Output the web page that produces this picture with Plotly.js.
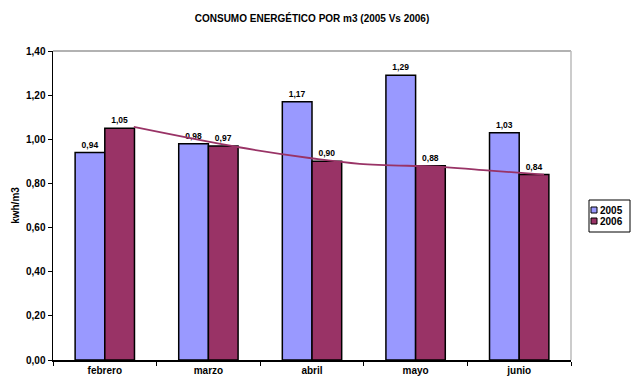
<!DOCTYPE html>
<html>
<head>
<meta charset="utf-8">
<script src="https://cdn.plot.ly/plotly-3.0.1.min.js"></script>
<style>
  html, body { margin: 0; padding: 0; background: #fff; }
  #chart { width: 631px; height: 385px; }
</style>
</head>
<body>
<div id="chart"></div>
<script>
// Monthly energy use per m3, two years side by side
const months = ['febrero', 'marzo', 'abril', 'mayo', 'junio'];
const values2005 = [0.94, 0.98, 1.17, 1.29, 1.03];
const values2006 = [1.05, 0.97, 0.90, 0.88, 0.84];
const seriesNames = ['2005', '2006'];

// Trend curve for 2006, positions in category units along the x axis
const trendX = [0.28, 1.28, 2.01, 2.46, 3.28, 3.72, 4.24];
const trendY = [1.056, 0.965, 0.913, 0.889, 0.874, 0.858, 0.84];

const yTicks = [0, 0.2, 0.4, 0.6, 0.8, 1.0, 1.2, 1.4];

const FONT = 'Arial, "Liberation Sans", sans-serif';
const COLORS = ['#9999FF', '#993366'];

const W = 631, H = 385;
const M = { l: 53, r: 60, t: 51, b: 25 };
const plotW = W - M.l - M.r, plotH = H - M.t - M.b;
// pixel position -> paper fraction, used for the compact legend box
const px = x => (x - M.l) / plotW;
const py = y => (H - M.b - y) / plotH;

const barCommon = {
  type: 'bar',
  x: months,
  textposition: 'outside',
  texttemplate: '%{y:.2f}',
  textfont: { family: FONT, size: 8.5, color: '#000', weight: 'bold' },
  cliponaxis: false,
  hoverinfo: 'skip',
  showlegend: false
};

const traces = [
  Object.assign({}, barCommon, {
    name: seriesNames[0],
    y: values2005,
    marker: { color: COLORS[0], line: { color: '#000', width: 1.5 } }
  }),
  Object.assign({}, barCommon, {
    name: seriesNames[1],
    y: values2006,
    marker: { color: COLORS[1], line: { color: '#000', width: 1.5 } }
  }),
  {
    type: 'scatter',
    mode: 'lines',
    x: trendX,
    y: trendY,
    xaxis: 'x2',
    line: { color: COLORS[1], width: 1.8, shape: 'spline', smoothing: 1 },
    showlegend: false,
    hoverinfo: 'skip'
  }
];

// Compact legend: framed box with a small swatch and label per series
const legendShapes = [
  { type: 'rect', xref: 'paper', yref: 'paper',
    x0: px(589), x1: px(630), y0: py(232), y1: py(200),
    line: { color: '#000', width: 1 }, fillcolor: '#fff' }
];
const legendLabels = [];
const rowY = [210, 221];
seriesNames.forEach((name, i) => {
  legendShapes.push({
    type: 'rect', xref: 'paper', yref: 'paper',
    x0: px(591), x1: px(597), y0: py(rowY[i] + 3), y1: py(rowY[i] - 3),
    line: { color: '#000', width: 1 }, fillcolor: COLORS[i]
  });
  legendLabels.push({
    xref: 'paper', yref: 'paper', x: px(598), y: py(rowY[i]),
    xanchor: 'left', yanchor: 'middle', showarrow: false,
    text: name,
    font: { family: FONT, size: 10, color: '#000', weight: 'bold' }
  });
});

const layout = {
  width: W,
  height: H,
  margin: M,
  paper_bgcolor: '#fff',
  plot_bgcolor: '#fff',
  separators: ',.',
  font: { family: FONT, size: 10, color: '#000' },
  title: {
    text: 'CONSUMO ENERGÉTICO POR m3 (2005 Vs 2006)',
    font: { family: FONT, size: 10, color: '#000', weight: 'bold' },
    x: 0.5, xref: 'paper', xanchor: 'center',
    y: 1 - 18 / H, yref: 'container', yanchor: 'middle'
  },
  barmode: 'group',
  bargap: 0.427,
  bargroupgap: 0,
  showlegend: false,
  xaxis: {
    type: 'category',
    range: [-0.5, 4.5],
    showgrid: false,
    zeroline: false,
    showline: true,
    linecolor: '#000',
    linewidth: 1.5,
    ticks: 'outside',
    tickson: 'boundaries',
    ticklen: 4,
    tickcolor: '#000',
    tickfont: { family: FONT, size: 10, color: '#000', weight: 'bold' },
    fixedrange: true
  },
  xaxis2: {
    overlaying: 'x',
    range: [-0.5, 4.5],
    visible: false,
    fixedrange: true
  },
  yaxis: {
    range: [0, 1.4],
    tickvals: yTicks,
    tickformat: '.2f',
    showgrid: false,
    zeroline: false,
    showline: true,
    linecolor: '#000',
    linewidth: 1.5,
    ticks: 'outside',
    ticklen: 4,
    tickcolor: '#000',
    tickfont: { family: FONT, size: 10, color: '#000', weight: 'bold' },
    title: {
      text: 'kwh/m3',
      font: { family: FONT, size: 10, color: '#000', weight: 'bold' },
      standoff: 4
    },
    fixedrange: true
  },
  shapes: [
    // grey frame along the top and right of the plot area
    { type: 'line', xref: 'paper', yref: 'paper', x0: 0, x1: 1, y0: 1, y1: 1,
      line: { color: '#999', width: 1.5 } },
    { type: 'line', xref: 'paper', yref: 'paper', x0: 1, x1: 1, y0: 0, y1: 1,
      line: { color: '#bbb', width: 1.5 } }
  ].concat(legendShapes),
  annotations: legendLabels
};

Plotly.newPlot('chart', traces, layout, { displayModeBar: false, staticPlot: true });
</script>
</body>
</html>
